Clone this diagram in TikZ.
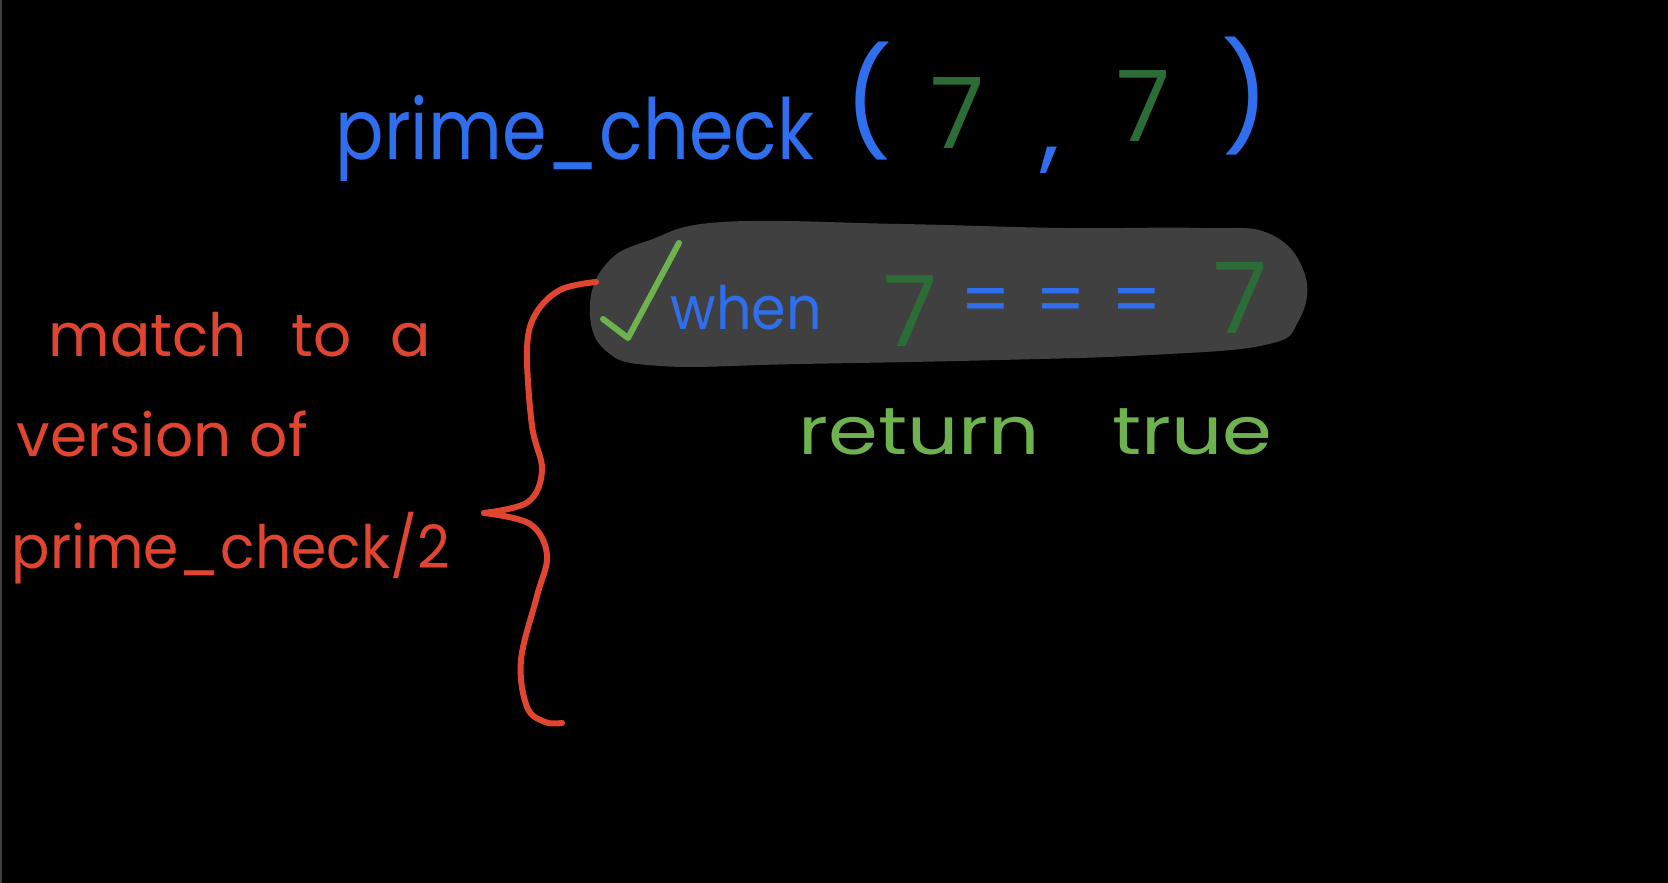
\documentclass[tikz,border=0pt]{standalone}
\usepackage{fontspec}
\setmainfont{Poppins}
\definecolor{pblue}{HTML}{2F6FEE}
\definecolor{dgreen}{HTML}{2B6C37}
\definecolor{lgreen}{HTML}{6DB24E}
\definecolor{pred}{HTML}{DF4530}
\definecolor{blobgray}{HTML}{404040}
\newcommand{\hsq}[2]{\scalebox{#1}[1]{#2}}
\tikzset{
  pen/.style={line width=0.6mm, line cap=round, line join=round},
  lbl/.style={inner sep=0pt, anchor=base west},
  sym/.style={inner sep=0pt, anchor=center},
}
\begin{document}
\begin{tikzpicture}[x=0.01cm,y=-0.01cm]
\fill[black] (0,0) rectangle (1668,883);
\useasboundingbox (0,0) rectangle (1668,883);
\draw[black!75, line width=0.02cm] (1,0) -- (1,883);
% highlighted blob
\fill[blobgray] plot[smooth cycle, tension=0.7] coordinates {(590,305) (608,262) (650,240) (723,222) (900,224) (1064,228) (1200,228) (1270,234) (1305,275) (1298,322) (1265,345) (1150,355) (1000,360) (800,364) (660,366) (605,350)};
% call
\node[lbl, text=pblue, font=\fontsize{24}{28}\selectfont] (fn) at (335,160) {\hsq{0.85}{prime\_check}};
\node[sym, text=pblue, font=\fontsize{30}{34}\selectfont] (lp) at (868,101) {(};
\node[sym, text=dgreen, font=\fontsize{28}{32}\selectfont] (a1) at (957,113) {7};
\node[sym, text=pblue, font=\fontsize{28}{32}\selectfont] (cm) at (1050,160) {,};
\node[sym, text=dgreen, font=\fontsize{28}{32}\selectfont] (a2) at (1143,106) {7};
\node[sym, text=pblue, font=\fontsize{30}{34}\selectfont] (rp) at (1245,96) {)};
% clause
\draw[lgreen, pen] (603,319) -- (628,338) -- (679,243);
\node[lbl, text=pblue, font=\fontsize{17}{20}\selectfont] (when) at (670,330) {\hsq{0.93}{when}};
\node[sym, text=dgreen, font=\fontsize{28}{32}\selectfont] (b1) at (910,311) {7};
\node[sym, text=pblue, font=\fontsize{20}{24}\selectfont] (eq) at (1061,307) {=\hspace{0.35em}=\hspace{0.35em}=};
\node[sym, text=dgreen, font=\fontsize{28}{32}\selectfont] (b2) at (1240,298) {7};
\node[lbl, text=lgreen, font=\fontsize{19}{22}\selectfont] (ret) at (798,455) {\hsq{1.2}{return\hspace{0.9em}true}};
% left annotation
\node[lbl, text=pred, font=\fontsize{17}{20}\selectfont] (m1) at (48,357) {match\hspace{0.75em}to\hspace{0.65em}a};
\node[lbl, text=pred, font=\fontsize{17}{20}\selectfont] (m2) at (16,457) {version\hspace{0.3em}of};
\node[lbl, text=pred, font=\fontsize{17}{20}\selectfont] (m3) at (11,569) {\hsq{0.95}{prime\_check/2}};
% brace
\draw[pred, pen] plot[smooth, tension=0.6] coordinates {(596,282) (560,290) (535,315) (527,351) (532,426) (542,470) (528,502) (484,513)};
\draw[pred, pen] plot[smooth, tension=0.6] coordinates {(484,513) (530,524) (547,555) (537,596) (521,660) (527,707) (545,722) (562,723)};
\end{tikzpicture}
\end{document}
